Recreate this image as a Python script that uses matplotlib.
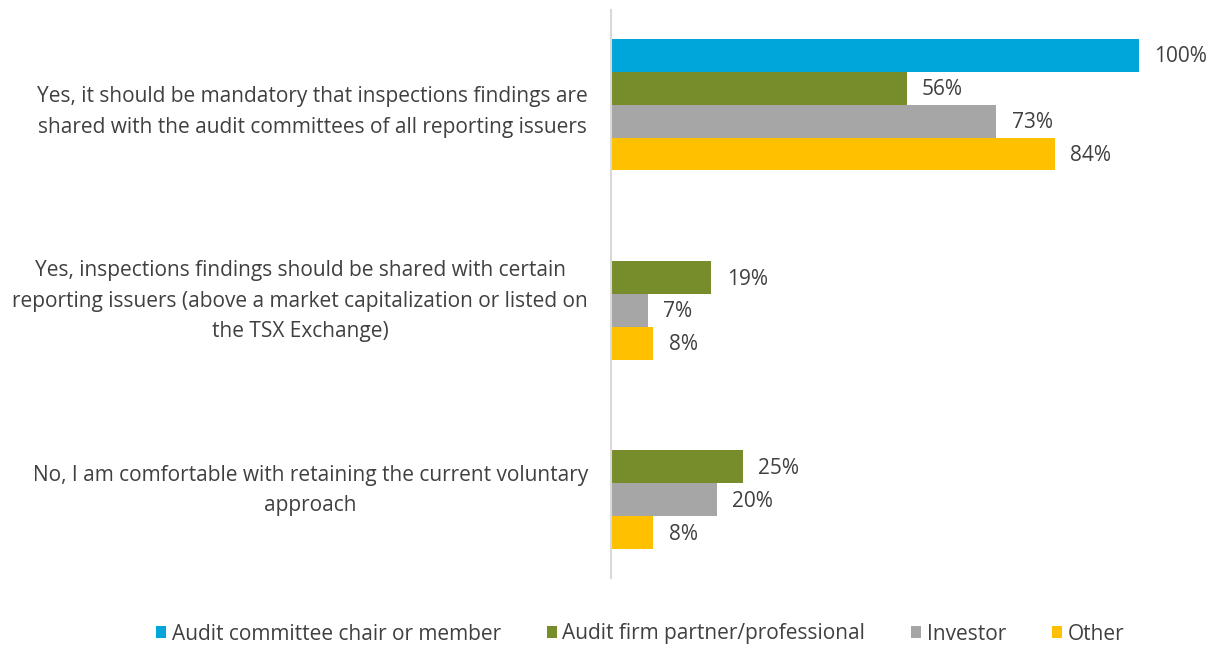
import matplotlib
matplotlib.use("Agg")
import matplotlib.pyplot as plt
import numpy as np

plt.rcParams['font.family'] = ['Open Sans', 'DejaVu Sans']

categories = [
    "Yes, it should be mandatory that inspections findings are\nshared with the audit committees of all reporting issuers",
    "Yes, inspections findings should be shared with certain\nreporting issuers (above a market capitalization or listed on\nthe TSX Exchange)",
    "No, I am comfortable with retaining the current voluntary\napproach",
]
series_names = ["Audit committee chair or member", "Audit firm partner/professional", "Investor", "Other"]
audit_committee = [1.00, 0.0, 0.0]
audit_firm = [0.56, 0.19, 0.25]
investor = [0.73, 0.07, 0.20]
other = [0.84, 0.08, 0.08]
colors = ["#00A5DA", "#778C2B", "#A6A6A6", "#FFC000"]

series = [audit_committee, audit_firm, investor, other]

fig = plt.figure(figsize=(12.15, 6.46), dpi=100)
ax = fig.add_axes([611 / 1215, 68 / 646, (1139 - 611) / 1215, 568 / 646])

y = np.arange(len(categories))
h = 33 / 190
text_col = "#404040"

for i, (vals, name, col) in enumerate(zip(series, series_names, colors)):
    pos = y + (i - 1.5) * h
    ax.barh(pos, vals, height=h, color=col, label=name)
    for p, v in zip(pos, vals):
        if v > 0:
            ax.text(v + 0.029, p + 0.008, f"{v:.0%}", va="center", ha="left",
                    fontsize=15, color=text_col, clip_on=False)

ax.set_xlim(0, 1.0)
ax.set_ylim(2.5, -0.5)
ax.set_yticks(y)
ax.set_yticklabels(categories, fontsize=15, color=text_col, multialignment="center",
                   linespacing=1.6)
ax.tick_params(axis="y", length=0, pad=16.5)
ax.set_xticks([])
for s in ["top", "right", "bottom"]:
    ax.spines[s].set_visible(False)
ax.spines["left"].set_color("#D9D9D9")
ax.spines["left"].set_linewidth(1.5)

handles, labels = ax.get_legend_handles_labels()
fig.legend(handles, labels, loc="center", bbox_to_anchor=(640 / 1215, 12 / 646), ncol=4,
           frameon=False, fontsize=15, handlelength=0.5, handleheight=0.5,
           handletextpad=0.25, columnspacing=2.2, labelcolor=text_col)

fig.savefig("out.png", dpi=100)
